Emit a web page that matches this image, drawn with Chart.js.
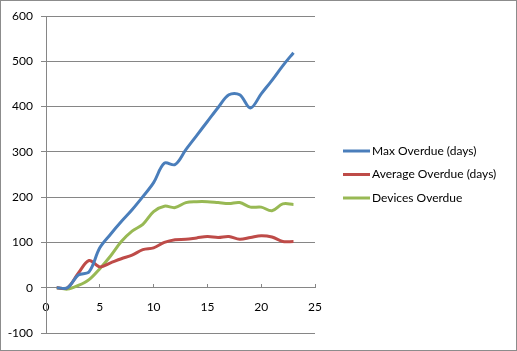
<!DOCTYPE html>
<html>
<head>
<meta charset="utf-8">
<script src="https://cdn.jsdelivr.net/npm/chart.js@4/dist/chart.umd.min.js"></script>
<style>
html,body{margin:0;padding:0;background:#fff;}
#wrap{width:517px;height:351px;position:relative;}
</style>
</head>
<body>
<div id="wrap"><canvas id="c" width="517" height="351"></canvas></div>
<script>
const xValues = [1,2,3,4,5,6,7,8,9,10,11,12,13,14,15,16,17,18,19,20,21,22,23];
const maxOverdue = [0,0,28,35,88,118,146,172,201,232,275,272,305,336,367,398,426,426,397,428,458,490,519];
const avgOverdue = [0,0,32,60,46,55,64,72,84,88,100,106,107,110,113,111,113,107,111,115,112,102,102];
const devicesOverdue = [0,-3,5,18,42,70,102,125,140,168,180,177,188,190,190,188,186,188,178,178,170,185,184];
const seriesNames = ['Max Overdue (days)','Average Overdue (days)','Devices Overdue'];
const seriesColors = ['#4A7EBB','#BE4B48','#98B954'];
const xTicks = [0,5,10,15,20,25];
const yTicks = [-100,0,100,200,300,400,500,600];

const toPts = arr => arr.map((v,i)=>({x:xValues[i], y:v}));
const allSeries = [maxOverdue, avgOverdue, devicesOverdue];

const FONT = 'Lato, "Open Sans", sans-serif';
const GRID = '#868686';

const legendPlugin = {
  id:'customLegend',
  afterDraw(chart){
    const ctx = chart.ctx;
    ctx.save();
    ctx.strokeStyle = '#8c8c8c';
    ctx.lineWidth = 1;
    ctx.strokeRect(0.5,0.5,516,350);
    ctx.font = '12px ' + FONT;
    ctx.textBaseline = 'middle';
    ctx.textAlign = 'left';
    chart.data.datasets.forEach((ds,i)=>{
      const y = 151 + i*23.5;
      ctx.strokeStyle = ds.borderColor;
      ctx.lineWidth = 3;
      ctx.beginPath();
      ctx.moveTo(343,y);
      ctx.lineTo(370,y);
      ctx.stroke();
      ctx.fillStyle = '#000';
      ctx.fillText(ds.label, 372, y);
    });
    ctx.restore();
  }
};

new Chart(document.getElementById('c'), {
  type:'scatter',
  data:{
    datasets: allSeries.map((arr,i)=>({
      label: seriesNames[i],
      data: toPts(arr),
      showLine: true,
      borderColor: seriesColors[i],
      backgroundColor: seriesColors[i],
      borderWidth: 3,
      pointRadius: 0,
      tension: 0.35,
      fill: false
    }))
  },
  options:{
    responsive:false,
    animation:false,
    devicePixelRatio:1,
    layout:{padding:{left:0, top:16, right:202, bottom:18}},
    plugins:{legend:{display:false}, tooltip:{enabled:false}},
    scales:{
      x:{
        type:'linear',
        position:{y:0},
        min:0, max:25,
        afterBuildTicks: s => { s.ticks = xTicks.map(v=>({value:v})); },
        afterFit: s => { s.height = 0; },
        ticks:{color:'#000', font:{family:FONT, size:12}, padding:16, maxRotation:0},
        grid:{display:true, drawOnChartArea:false, drawTicks:true, tickLength:-4, color:GRID},
        border:{display:true, color:GRID, width:1}
      },
      y:{
        type:'linear',
        min:-100, max:600,
        afterBuildTicks: s => { s.ticks = yTicks.map(v=>({value:v})); },
        afterFit: s => { s.width = 46; },
        ticks:{color:'#000', font:{family:FONT, size:12}, padding:8},
        grid:{display:true, drawOnChartArea:true, drawTicks:true, tickLength:5, color:GRID},
        border:{display:true, color:GRID, width:1}
      }
    }
  },
  plugins:[legendPlugin]
});
</script>
</body>
</html>
